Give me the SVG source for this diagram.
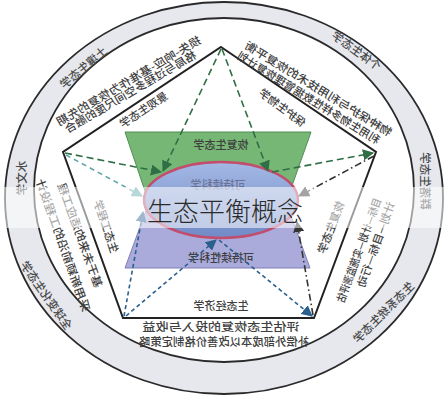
<svg xmlns="http://www.w3.org/2000/svg" width="448" height="400" viewBox="0 0 448 400">
<defs>
<style>
.t{font-family:"Noto Sans CJK SC","Noto Sans CJK TC",sans-serif;font-size:11px;fill:#3e3e3e;text-anchor:middle;dominant-baseline:central;font-weight:500}
.r{font-size:11.5px;fill:#4a4a4a}
.c{stroke-width:1.6;fill:none}
.g{stroke:#2f6f45;stroke-dasharray:7 4}
.tl{stroke:#5fa6a8;stroke-dasharray:5 4}
.b{stroke:#2b5f8e;stroke-dasharray:4 3}
.k{stroke:#333;stroke-dasharray:7 3 1.5 3}
</style>
<marker id="aG" viewBox="0 0 10 10" refX="9" refY="5" markerWidth="7" markerHeight="7" orient="auto"><path d="M0,0 L10,5 L0,10 z" fill="#2f6f45"/></marker>
<marker id="aT" viewBox="0 0 10 10" refX="9" refY="5" markerWidth="7" markerHeight="7" orient="auto"><path d="M0,0 L10,5 L0,10 z" fill="#5fa6a8"/></marker>
<marker id="aB" viewBox="0 0 10 10" refX="9" refY="5" markerWidth="7" markerHeight="7" orient="auto"><path d="M0,0 L10,5 L0,10 z" fill="#2b5f8e"/></marker>
<marker id="aK" viewBox="0 0 10 10" refX="9" refY="5" markerWidth="7" markerHeight="7" orient="auto"><path d="M0,0 L10,5 L0,10 z" fill="#333"/></marker>
<linearGradient id="eg" x1="0" y1="0" x2="0" y2="1"><stop offset="0" stop-color="#a3b8e4"/><stop offset="1" stop-color="#7189c6"/></linearGradient>
</defs>
<rect width="448" height="400" fill="#fff"/>
<g id="ring">
<path d="M224,2 A219,196 0 1,0 224.01,2 Z M224,18 A190,172 0 1,1 223.99,18 Z" fill="#e6e8ee" fill-rule="evenodd"/>
<ellipse cx="224" cy="198" rx="219" ry="196" fill="none" stroke="#2a2a2a" stroke-width="1.8"/>
<ellipse cx="224" cy="190" rx="190" ry="172" fill="none" stroke="#2a2a2a" stroke-width="1.8"/>
<text class="t r" transform="translate(83,67) rotate(-40) scale(-1,1)">土壤生态学</text>
<text class="t r" transform="translate(357,50) rotate(36) scale(-1,1)">个体生态学</text>
<text class="t r" transform="translate(426,181) rotate(90) scale(-1,1)">群落生态学</text>
<text class="t r" transform="translate(383,312) rotate(-45) scale(-1,1)">生态系统生态学</text>
<text class="t r" transform="translate(47,295) rotate(55) scale(-1,1)">全球变化生态学</text>
<text class="t r" transform="translate(21,178) rotate(-90) scale(-1,1)">水文学</text>
</g>
<g id="pentagon">
<polygon points="221,47 376,152 314,318 123,318 63,152" fill="none" stroke="#222" stroke-width="2"/>
<text class="t" transform="translate(143,109) rotate(-33.7) scale(-1,1)">景观生态学</text>
<text class="t" transform="translate(283,107) rotate(37) scale(-1,1)">保护生物学</text>
<text class="t" transform="translate(330,227) rotate(-69) scale(-1,1)">恢复生态学</text>
<text class="t" transform="translate(221,305) scale(-1,1)">生态经济学</text>
<text class="t" transform="translate(107,226) rotate(71.6) scale(-1,1)">生态工程学</text>
</g>
<g id="band-texts">
<text class="t" textLength="165" lengthAdjust="spacingAndGlyphs" transform="translate(128,80) rotate(-30.4) scale(-1,1)">损失-响应-基准作为恢复的先期</text>
<text class="t" textLength="150" lengthAdjust="spacingAndGlyphs" transform="translate(130,91) rotate(-30.4) scale(-1,1)">格局与过程多空间尺度的融合</text>
<text class="t" textLength="170" lengthAdjust="spacingAndGlyphs" transform="translate(319,88) rotate(31.6) scale(-1,1)">物种保护与利用技术的恢复平衡</text>
<text class="t" textLength="165" lengthAdjust="spacingAndGlyphs" transform="translate(309,97) rotate(31.6) scale(-1,1)">利用生物多样性数据管理恢复计划</text>
<text class="t" textLength="110" lengthAdjust="spacingAndGlyphs" transform="translate(81,235) rotate(70) scale(-1,1)">基于未来的适应工程</text>
<text class="t" textLength="140" lengthAdjust="spacingAndGlyphs" transform="translate(64,245) rotate(70.4) scale(-1,1)">采用新颖前沿的工程设计</text>
<text class="t" textLength="110" lengthAdjust="spacingAndGlyphs" transform="translate(358,250) rotate(-70) scale(-1,1)">目标—计划—实施监测评估</text>
<text class="t" textLength="90" lengthAdjust="spacingAndGlyphs" transform="translate(375,244) rotate(-70) scale(-1,1)">计划—目标—行动</text>
<text class="t" textLength="157" lengthAdjust="spacingAndGlyphs" transform="translate(221,326) scale(-1,1)">评估生态恢复的投入与收益</text>
<text class="t" textLength="170" lengthAdjust="spacingAndGlyphs" transform="translate(224,341) scale(-1,1)">补偿外部成本以改善价格制定策略</text>
</g>
<g id="restoration">
<polygon points="125,132 311,132 287,200 148,200" fill="#77b776" stroke="#4f8f55" stroke-width="1"/>
<text class="t" transform="translate(221,144) scale(-1,1)">恢复生态学</text>
</g>
<g id="sustainability">
<polygon points="148,205 287,205 310,268 125,268" fill="#aaaadb" stroke="#7f7fb5" stroke-width="1"/>
<text class="t" transform="translate(221,257) scale(-1,1)">可持续性科学</text>
</g>
<g id="core">
<ellipse cx="221" cy="200" rx="77" ry="38" fill="url(#eg)" stroke="#c24d6c" stroke-width="2.5"/>
<text class="t" style="fill:#6a7396" transform="translate(218,184) scale(-1,1)">可持续科学</text>
</g>
<g id="connectors">
<path class="c g" d="M221,49 L163,171" marker-end="url(#aG)"/>
<path class="c g" d="M65,153 L161,172" marker-end="url(#aG)"/>
<path class="c g" d="M222,49 L268,171" marker-end="url(#aG)"/>
<path class="c g" d="M272,172 L373,153" marker-end="url(#aG)"/>
<path class="c k" d="M374,156 L299,196" marker-end="url(#aK)"/>
<path class="c tl" d="M66,155 L142,196" marker-end="url(#aT)"/>
<path class="c b" d="M124,316 L143,212" marker-end="url(#aB)"/>
<path class="c b" d="M126,316 L216,240" marker-end="url(#aB)"/>
<path class="c b" d="M219,240 L312,316" marker-end="url(#aB)"/>
<path class="c k" d="M313,315 L297,222" marker-end="url(#aK)"/>
</g>
<g id="watermark">
<rect x="0" y="187" width="448" height="41" fill="#fff" fill-opacity="0.55"/>
<text x="225" y="221" font-family="Noto Sans CJK SC, sans-serif" font-size="26" fill="#2a2a2a" text-anchor="middle" font-weight="300">生态平衡概念</text>
</g>
</svg>
